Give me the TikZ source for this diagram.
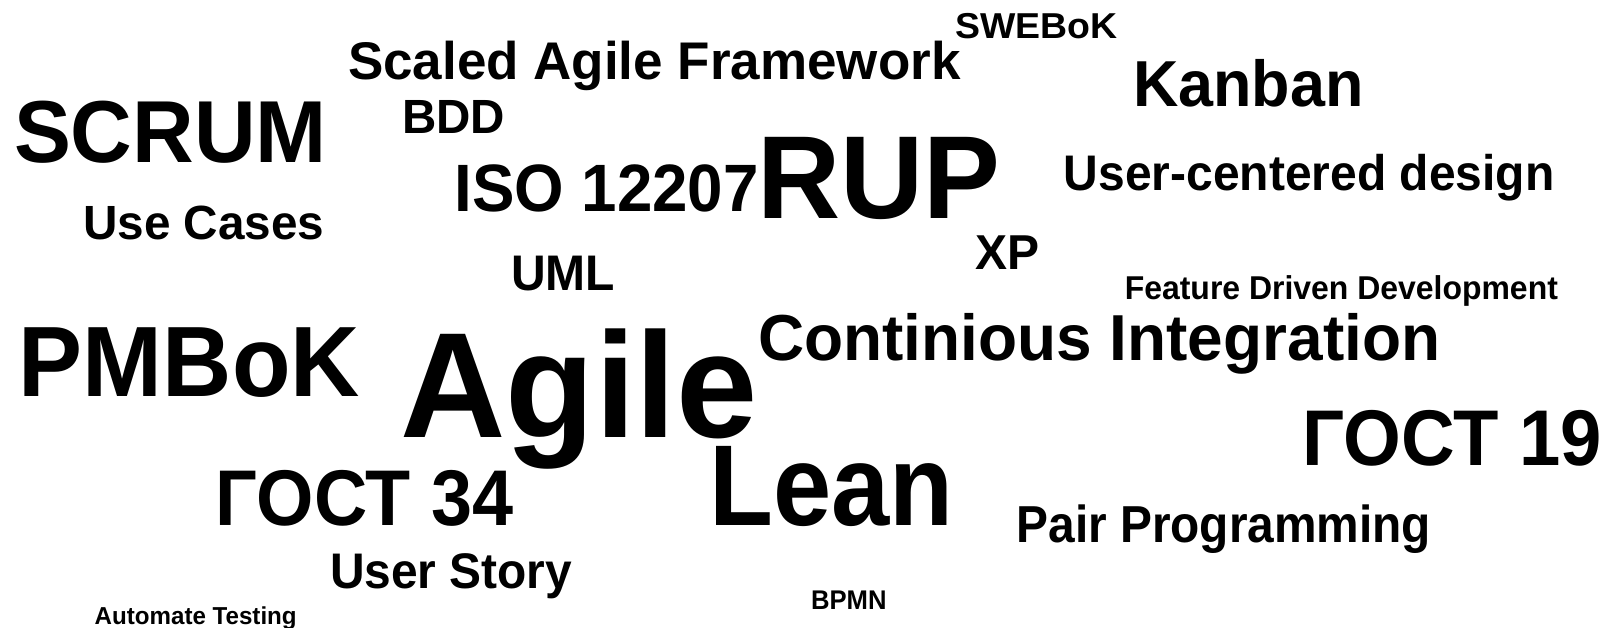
\documentclass[tikz,border=0pt]{standalone}
\usepackage{fontspec}
\setmainfont{Liberation Sans}
\usetikzlibrary{positioning}
\tikzset{word/.style={anchor=base west, inner sep=0pt, outer sep=0pt}}
\newcommand{\cw}[6]{\node[word, font={\fontsize{#4}{#4}\selectfont\bfseries}] (#1) at (#2,#3) {\scalebox{#5}[1]{#6}};}
\begin{document}
\begin{tikzpicture}[x=1pt,y=-1pt]
\useasboundingbox (0,0) rectangle (1614,627);
\fill[white] (0,0) rectangle (1614,627);
\cw{swebok}{955.6}{38.1}{36}{1.04}{SWEBoK}
\cw{safe}{348}{79.3}{53}{1.0}{Scaled Agile Framework}
\cw{kanban}{1133}{106}{65}{0.967}{Kanban}
\cw{scrum}{14}{162.6}{88}{0.97}{SCRUM}
\cw{bdd}{402.3}{133.8}{48}{0.99}{BDD}
\cw{iso}{454.5}{211}{67}{0.95}{ISO 12207}
\cw{rup}{757.5}{218.2}{118}{0.976}{RUP}
\cw{ucd}{1063.7}{190.4}{50}{0.96}{User-centered design}
\cw{usecases}{83.2}{239.8}{48}{0.993}{Use Cases}
\cw{xp}{975.8}{269.7}{49}{0.98}{XP}
\cw{uml}{511.3}{290.3}{50}{0.96}{UML}
\cw{fdd}{1124.8}{299.5}{33}{0.968}{Feature Driven Development}
\cw{ci}{758.1}{360.3}{65}{0.984}{Continious Integration}
\cw{pmbok}{19}{396.3}{100}{0.959}{PMBoK}
\cw{agile}{400.5}{437.5}{150}{0.973}{Agile}
\cw{gost19}{1302.8}{465.2}{79}{0.94}{ГОСТ 19}
\cw{lean}{709.4}{525}{115}{0.91}{Lean}
\cw{gost34}{215.8}{525}{79}{0.934}{ГОСТ 34}
\cw{pair}{1016.5}{542.4}{52}{0.92}{Pair Programming}
\cw{story}{330}{588.8}{50}{0.958}{User Story}
\cw{bpmn}{811}{609.3}{27}{0.95}{BPMN}
\cw{autotest}{94.7}{624.8}{24.5}{0.985}{Automate Testing}
\end{tikzpicture}
\end{document}
